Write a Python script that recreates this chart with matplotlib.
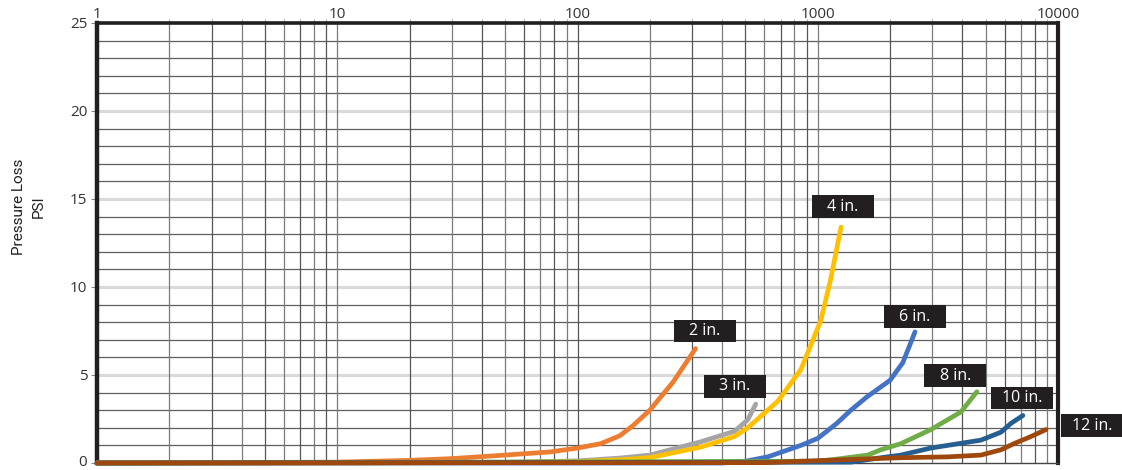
import numpy as np
import matplotlib
matplotlib.use("Agg")
from matplotlib import pyplot as plt
from matplotlib import transforms
from matplotlib.patches import Rectangle
from matplotlib.ticker import FixedLocator, NullFormatter

# flow (x) vs pressure loss in psi (y), one curve per pipe size
flow_2 = [1, 10, 20, 30, 50, 77, 100, 125, 150, 171, 200, 250, 310]
psi_2 = [0, 0.05, 0.15, 0.25, 0.45, 0.63, 0.85, 1.1, 1.55, 2.15, 3.0, 4.6, 6.5]

flow_3 = [1, 50, 100, 150, 200, 325, 450, 511, 552]
psi_3 = [0, 0.03, 0.12, 0.28, 0.45, 1.2, 1.8, 2.45, 3.35]

flow_4 = [1, 50, 100, 150, 200, 325, 450, 511, 562, 681, 850, 1030, 1130, 1250]
psi_4 = [0, 0.02, 0.08, 0.18, 0.3, 0.9, 1.5, 2.0, 2.5, 3.5, 5.3, 8.1, 10.4, 13.4]

flow_6 = [1, 400, 500, 620, 700, 850, 1000, 1200, 1373, 1600, 2000, 2260, 2540]
psi_6 = [0, 0, 0.1, 0.35, 0.6, 1.0, 1.4, 2.25, 3.0, 3.75, 4.7, 5.7, 7.45]

flow_8 = [1, 1000, 1166, 1616, 1830, 2218, 2957, 3944, 4597]
psi_8 = [0, 0.1, 0.2, 0.45, 0.75, 1.1, 1.9, 2.9, 4.05]

flow_10 = [1, 1373, 1830, 2218, 2957, 4777, 5787, 6368, 7145]
psi_10 = [0, 0.05, 0.3, 0.45, 0.85, 1.3, 1.75, 2.25, 2.7]

flow_12 = [1, 600, 850, 1373, 2218, 3500, 4777, 5787, 6556, 7700, 8913]
psi_12 = [0, 0.02, 0.1, 0.2, 0.3, 0.35, 0.45, 0.75, 1.1, 1.5, 1.9]

sizes = ["2 in.", "3 in.", "4 in.", "6 in.", "8 in.", "10 in.", "12 in."]
colors = ["#ED7D31", "#A5A5A5", "#FFC000", "#4472C4", "#70AD47", "#255E91", "#9E480E"]
flows = [flow_2, flow_3, flow_4, flow_6, flow_8, flow_10, flow_12]
psis = [psi_2, psi_3, psi_4, psi_6, psi_8, psi_10, psi_12]

# where each size tag sits (centre of the black box)
tag_x = [338, 451, 1271, 2537, 3741, 7079, 13856]
tag_y = [7.5, 4.35, 14.57, 8.32, 4.97, 3.69, 2.13]

fig = plt.figure(figsize=(11.22, 4.70), dpi=100)
ax = fig.add_axes([97 / 1122, 1 - 463 / 470, 961 / 1122, 440 / 470])

ax.set_xscale("log")
ax.set_xlim(1, 10000)
ax.set_ylim(0, 25)

# grid: light lines every 5 psi, darker every 1 psi, log grid on x
for v in range(1, 25):
    if v % 5 == 0:
        ax.axhline(v, color="#d9d9d9", lw=2.2, zorder=0.5)
    else:
        ax.axhline(v, color="#5e5e5e", lw=0.9, zorder=0.6)
vlines = [m * 10 ** d for d in range(4) for m in range(1, 10)][1:]
for i, v in enumerate(vlines):
    ax.axvline(v, color="#555555" if i % 2 else "#7a7a7a", lw=0.9, zorder=0.6)

for fx, py, c in zip(flows, psis, colors):
    ax.plot(fx, py, color=c, lw=3.4, solid_capstyle="round",
            solid_joinstyle="round", clip_on=False, zorder=3)

# size tags drawn as fixed-size black boxes
half_w = 10 ** 0.129
half_h = 0.65
for lab, cx, cy in zip(sizes, tag_x, tag_y):
    ax.add_patch(Rectangle((cx / half_w, cy - half_h), cx * half_w - cx / half_w,
                           2 * half_h, facecolor="#231f20", edgecolor="none",
                           clip_on=False, zorder=5))
    ax.text(cx, cy, lab, color="white", fontsize=11.5, ha="center", va="center",
            family=["Open Sans", "DejaVu Sans"], clip_on=False, zorder=6)

for side in ["left", "top", "right"]:
    ax.spines[side].set_color("#231f20")
ax.spines["left"].set_linewidth(3.2)
ax.spines["right"].set_linewidth(3.0)
ax.spines["top"].set_linewidth(2.6)
ax.spines["bottom"].set_color("#444444")
ax.spines["bottom"].set_linewidth(1.0)

ax.set_yticks([0, 5, 10, 15, 20, 25])
ax.tick_params(axis="y", which="both", left=True, length=4, width=0.8,
               color="#888888", pad=3, labelsize=11, labelcolor="#333333")
for t in ax.get_yticklabels():
    t.set_family(["Open Sans", "DejaVu Sans"])
# lift the zero label a touch so it stays inside the figure
zero_lbl = ax.get_yticklabels()[0]
zero_lbl.set_transform(zero_lbl.get_transform() +
                       transforms.ScaledTranslation(0, 2 / 72, fig.dpi_scale_trans))

ax.xaxis.set_ticks_position("top")
ax.set_xticks([1, 10, 100, 1000, 10000])
ax.set_xticklabels(["1", "10", "100", "1000", "10000"])
ax.xaxis.set_minor_locator(FixedLocator(vlines))
ax.xaxis.set_minor_formatter(NullFormatter())
ax.tick_params(axis="x", which="major", top=True, bottom=False, length=0,
               pad=1, labelsize=11, labelcolor="#333333")
ax.tick_params(axis="x", which="minor", top=True, bottom=False, length=3,
               width=0.8, color="#aaaaaa")
for t in ax.get_xticklabels():
    t.set_family(["Open Sans", "DejaVu Sans"])

fig.text(0.026, 0.56, "Pressure Loss\nPSI", rotation=90, ha="center",
         va="center", fontsize=11, linespacing=1.5, color="#231f20",
         family=["Liberation Sans Narrow", "Roboto", "DejaVu Sans"])

fig.savefig("out.png", dpi=100)
